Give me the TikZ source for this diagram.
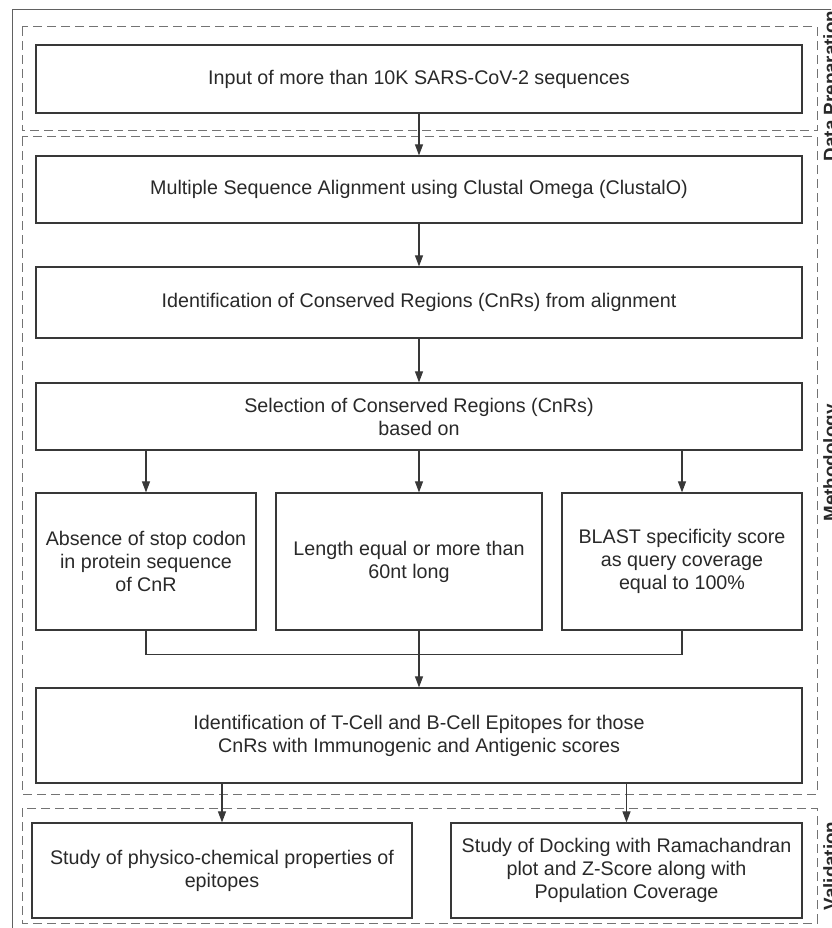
\documentclass[tikz,border=0pt]{standalone}
\usepackage{fontspec}
\setmainfont{Liberation Sans}
\usepackage{tikz}
\usetikzlibrary{math}
\usetikzlibrary{arrows.meta}
\usetikzlibrary{positioning}
\definecolor{cbox}{rgb}{0.22, 0.22, 0.22}
\definecolor{cdash}{rgb}{0.45, 0.45, 0.45}
\definecolor{cframe}{rgb}{0.38, 0.38, 0.38}
\definecolor{ctext}{rgb}{0.16, 0.16, 0.16}
\tikzset{
  stage/.style={draw=cbox, line width=1.2pt, align=center, inner sep=0pt, text=ctext,
    font=\fontsize{19.7}{23}\selectfont},
  group/.style={draw=cdash, line width=1pt, dash pattern=on 9pt off 5pt},
  grouplabel/.style={rotate=90, anchor=north, inner sep=0pt, text=ctext,
    font=\bfseries\fontsize{18.8}{20}\selectfont},
  link/.style={draw=cbox, line width=1.1pt},
  flow/.style={link, -{Triangle[length=11pt, width=8pt]}},
}

\begin{document}
\begin{tikzpicture}[x=1pt, y=-1pt]
  \tikzmath{
    \colx = 419;
    \colw = 766;
    %
    \gl = 22;
    \gr = 817;
  }
  \useasboundingbox (0,0) rectangle (831,928);
  \clip (0,0) rectangle (831,928);

  % outer frame
  \draw [cframe, line width=1pt] (12,10) rectangle (850,950);

  % groups
  \draw [group] (\gl,27) rectangle (\gr,131);
  \draw [group] (\gl,137) rectangle (\gr,794);
  \draw [group] (\gl,808) rectangle (\gr,923);
  \node [grouplabel] (prepname) at (823,86) {Data Preparation};
  \node [grouplabel] (methname) at (823,463) {Methodology};
  \node [grouplabel] (validname) at (823,866) {Validation};

  % main column
  \node [stage, minimum width=\colw pt, minimum height=68pt] (input) at (\colx,79)
    {Input of more than 10K SARS-CoV-2 sequences};
  \node [stage, minimum width=\colw pt, minimum height=67pt] (msa) at (\colx,189.5)
    {Multiple Sequence Alignment using Clustal Omega (ClustalO)};
  \node [stage, minimum width=\colw pt, minimum height=71pt] (ident) at (\colx,302.5)
    {Identification of Conserved Regions (CnRs) from alignment};
  \node [stage, minimum width=\colw pt, minimum height=67pt] (select) at (\colx,416.5)
    {Selection of Conserved Regions (CnRs)\\based on};

  % criteria
  \node [stage, minimum width=220pt, minimum height=137pt] (absence) at (146,561.5)
    {Absence of stop codon\\in protein sequence\\of CnR};
  \node [stage, minimum width=266pt, minimum height=137pt] (length) at (409,561.5)
    {Length equal or more than\\60nt long};
  \node [stage, minimum width=240pt, minimum height=137pt] (blast) at (682,561.5)
    {BLAST specificity score\\as query coverage\\equal to 100\%};

  \node [stage, minimum width=\colw pt, minimum height=95pt] (epitope) at (\colx,735.5)
    {Identification of T-Cell and B-Cell Epitopes for those\\CnRs with Immunogenic and Antigenic scores};

  % validation
  \node [stage, minimum width=380pt, minimum height=95pt] (physico) at (222,870.5)
    {Study of physico-chemical properties of\\epitopes};
  \node [stage, minimum width=351pt, minimum height=95pt] (docking) at (626.5,870.5)
    {Study of Docking with Ramachandran\\plot and Z-Score along with\\Population Coverage};

  % arrows down the column
  \draw [flow] (input) -- (msa);
  \draw [flow] (msa) -- (ident);
  \draw [flow] (ident) -- (select);
  % split into criteria
  \draw [flow] (select.south -| absence) -- (absence);
  \draw [flow] (select) -- (select |- length.north);
  \draw [flow] (select.south -| blast) -- (blast);
  % merge
  \draw [link] (absence.south) -- ++(0,24) -| (blast.south);
  \draw [flow] (length.south -| epitope) -- (epitope);
  % to validation
  \draw [flow] (epitope.south -| physico) -- (physico);
  \draw [flow] (epitope.south -| docking) -- (docking);
\end{tikzpicture}
\end{document}
